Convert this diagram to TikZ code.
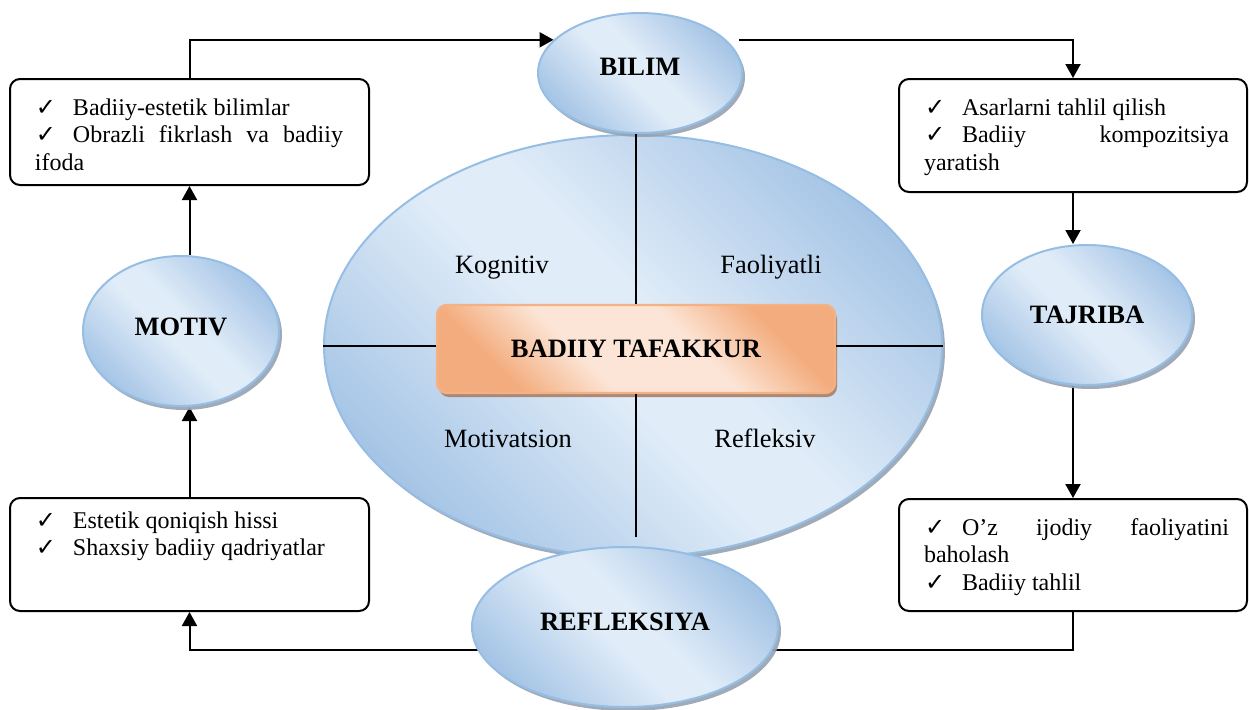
\documentclass[tikz,border=0pt]{standalone}
\usepackage{fontspec}
\setmainfont{Liberation Serif}
\newfontfamily\symf{DejaVu Sans}
\usetikzlibrary{arrows.meta,shapes.geometric,shadows,backgrounds}
\definecolor{bdark}{RGB}{166,197,230}
\definecolor{blight}{RGB}{224,236,248}
\definecolor{bborder}{RGB}{150,190,228}
\definecolor{odark}{RGB}{243,172,125}
\definecolor{olight}{RGB}{252,229,214}
\definecolor{oborder}{RGB}{244,177,131}
\definecolor{bshadow}{RGB}{150,162,178}
\definecolor{oshadow}{RGB}{168,128,105}
\pgfdeclarehorizontalshading{bluediag}{100bp}{color(0bp)=(bdark); color(25bp)=(bdark); color(46bp)=(blight); color(54bp)=(blight); color(75bp)=(bdark); color(100bp)=(bdark)}
\pgfdeclarehorizontalshading{orangediag}{100bp}{color(0bp)=(odark); color(27bp)=(odark); color(41bp)=(olight); color(59bp)=(olight); color(73bp)=(odark); color(100bp)=(odark)}
\newcommand\ck{\makebox[19pt][l]{\hspace{0.5pt}{\symf\fontsize{12}{12}\selectfont ✓}}}
% #1 left pad, #2 text width, #3 right pad, #4 height, #5 first baseline, #6 content
\newcommand\bxtext[6]{\hspace*{#1}\parbox[c][#4][t]{#2}{\fontsize{12}{13.75}\selectfont\rule{0pt}{#5}#6}\hspace*{#3}}
\tikzset{
 ell/.style={ellipse, shade, shading=bluediag, shading angle=45, draw=bborder, line width=1pt, inner sep=0pt,
   font=\fontsize{13.25}{15}\selectfont\bfseries,
   drop shadow={shadow xshift=1.5pt, shadow yshift=-2pt, fill=bshadow, opacity=0.9}},
 corebox/.style={rectangle, rounded corners=5pt, shade, shading=orangediag, shading angle=45, draw=oborder,
   line width=1.2pt, inner sep=0pt, font=\fontsize{13.25}{15}\selectfont\bfseries,
   drop shadow={shadow xshift=1pt, shadow yshift=-2pt, fill=oshadow, opacity=0.9}},
 listbox/.style={rectangle, draw=black, line width=1pt, rounded corners=5pt, fill=white, inner sep=0pt},
 conn/.style={line width=1pt, black},
 arr/.style={conn, -{Triangle[width=7.5pt,length=7pt]}},
 qline/.style={line width=1pt, black},
 qlabel/.style={anchor=base, inner sep=0pt, font=\fontsize{13.2}{15}\selectfont},
}
\begin{document}
\begin{tikzpicture}[x=0.5pt,y=-0.5pt]
\useasboundingbox (0,0) rectangle (1249,709);

% central ellipse and core
\node[ell, minimum width=309pt, minimum height=211pt] (big) at (633,346) {};
\node[corebox, minimum width=199pt, minimum height=44pt] (core) at (636,349) {BADIIY TAFAKKUR};

% outer ellipses
\node[ell, minimum width=102pt, minimum height=60pt, text depth=6pt] (bilim) at (640,73) {BILIM};
\node[ell, minimum width=153pt, minimum height=80pt, text depth=5pt] (refl) at (625,627) {REFLEKSIYA};
\node[ell, minimum width=98pt, minimum height=75pt, text depth=4pt] (motiv) at (181,331) {MOTIV};
\node[ell, minimum width=105pt, minimum height=70pt] (tajriba) at (1087,315) {TAJRIBA};

% list boxes
\node[listbox] (box1) at (189.5,132) {\bxtext{12.5pt}{154pt}{13pt}{53pt}{18pt}{%
 \ck Badiiy-estetik bilimlar\\
 \ck Obrazli fikrlash va badiiy\linebreak ifoda}};
\node[listbox] (box2) at (1073,135.5) {\bxtext{12.5pt}{152.5pt}{9pt}{56.5pt}{18pt}{%
 \ck Asarlarni tahlil qilish\\
 \ck Badiiy kompozitsiya\linebreak yaratish}};
\node[listbox] (box3) at (1073,555) {\bxtext{12.5pt}{152.5pt}{9pt}{56pt}{18pt}{%
 \ck O’z ijodiy faoliyatini\linebreak baholash\\
 \ck Badiiy tahlil}};
\node[listbox] (box4) at (189.5,554.5) {\bxtext{12.5pt}{154pt}{13pt}{56.5pt}{15pt}{%
 \ck Estetik qoniqish hissi\\
 \ck Shaxsiy badiiy qadriyatlar}};

% quadrant lines
\coordinate (vb) at (636,537);
\draw[qline] (core.north) -- (core.north |- big.north);
\draw[qline] (core.south) -- (vb);
\draw[qline] (big.west) -- (big.west -| core.west);
\draw[qline] (big.east) -- (big.east -| core.east);

% quadrant labels
\node[qlabel] (kog) at (502,273) {Kognitiv};
\node[qlabel] (fao) at (771,273) {Faoliyatli};
\node[qlabel] (mot) at (508,447) {Motivatsion};
\node[qlabel] (ref) at (765,447) {Refleksiv};

% connectors
\begin{scope}[on background layer]
\draw[arr] (box1.north) |- (bilim.159);
\draw[arr] ([xshift=6.5pt]bilim.21) -| (box2.north);
\draw[arr] (box2.south) -- (box2.south |- tajriba.north);
\draw[arr] (box2.south |- tajriba.south) -- (box3.north);
\draw[conn] (box3.south) |- (refl.-9);
\draw[arr] (refl.189) -| (box4.south);
\draw[arr] (box4.north) -- (box4.north |- motiv.south);
\draw[arr] (box1.south |- motiv.north) -- (box1.south);
\end{scope}
\end{tikzpicture}
\end{document}
